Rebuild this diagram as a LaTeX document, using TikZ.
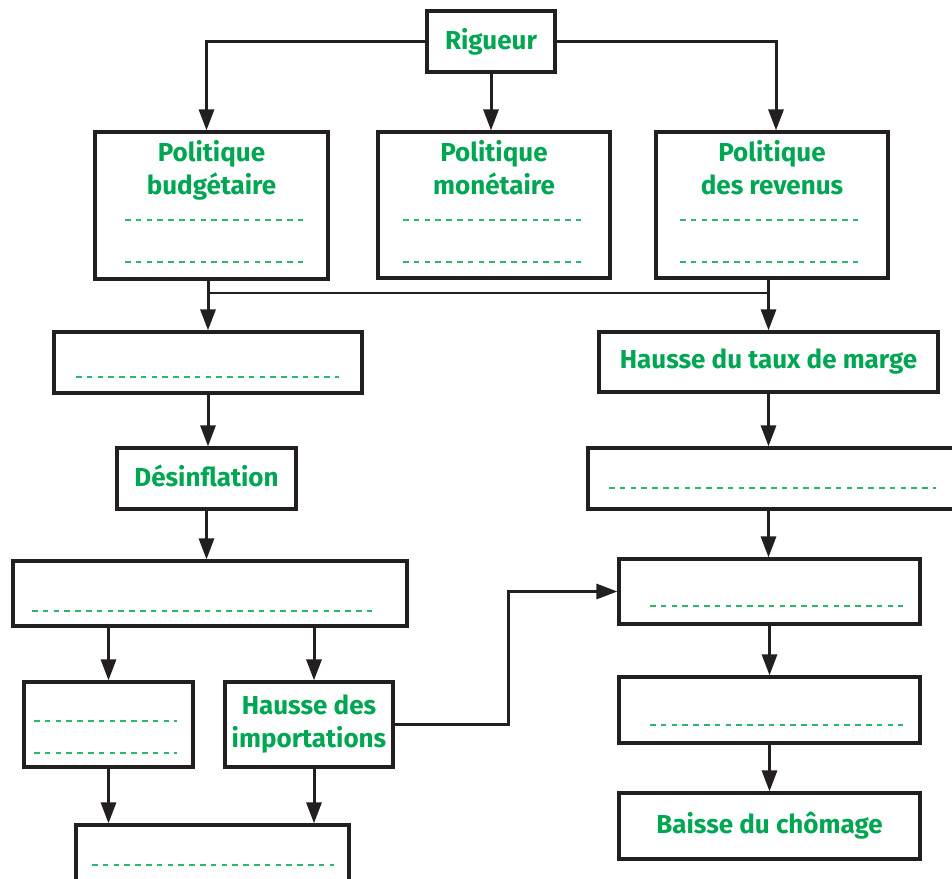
\documentclass[tikz,border=0pt]{standalone}
\usepackage{fontspec}
\setmainfont{Fira Sans}
\usetikzlibrary{arrows.meta}
\definecolor{vert}{RGB}{0,166,81}
\definecolor{vertclair}{RGB}{45,182,110}
\definecolor{trait}{RGB}{35,31,32}

\begin{document}
\begin{tikzpicture}[x=1pt, y=-1pt,
  boite/.style={draw=trait, line width=3.2pt, rectangle, inner sep=0pt, align=center, text=vert, font=\fontsize{26}{33}\selectfont\bfseries},
  txt/.style={text=vert, align=center, inner sep=0pt, font=\fontsize{26}{33}\selectfont\bfseries},
  fleche/.style={draw=trait, line width=3pt, -{Triangle[length=21pt,width=15pt]}},
  ligne/.style={draw=trait, line width=2.8pt},
  pointille/.style={draw=vertclair, line width=1.7pt, dash pattern=on 5.5pt off 5.3pt}]
\useasboundingbox (0,0) rectangle (952,878);

\node[boite, minimum width=128pt, minimum height=61pt] (rig) at (491,41.5) {Rigueur};
\node[boite, minimum width=233pt, minimum height=147pt] (budget) at (211.5,205.5) {};
\node[boite, minimum width=232pt, minimum height=146pt] (monet) at (494,205) {};
\node[boite, minimum width=232pt, minimum height=146pt] (revenu) at (772,205) {};
\node[txt, anchor=north] at ([yshift=-10pt]budget.north) {Politique\\budgétaire};
\node[txt, anchor=north] at ([yshift=-10pt]monet.north) {Politique\\monétaire};
\node[txt, anchor=north] at ([yshift=-10pt]revenu.north) {Politique\\des revenus};

\node[boite, minimum width=308pt, minimum height=61pt] (vide1) at (208,362.5) {};
\node[boite, minimum width=179pt, minimum height=61pt] (desinf) at (206.5,478.5) {Désinflation\vphantom{g}};
\node[boite, minimum width=394pt, minimum height=65pt] (vide3) at (210,593.5) {};
\node[boite, minimum width=169pt, minimum height=85pt] (vide4) at (108.5,724.5) {};
\node[boite, minimum width=168pt, minimum height=85pt] (import) at (309,724.5) {Hausse des\\importations};
\node[boite, minimum width=273pt, minimum height=75pt] (vide5) at (212.5,862.5) {};

\node[boite, minimum width=339pt, minimum height=60pt] (marge) at (768.5,362) {Hausse du taux de marge};
\node[boite, minimum width=382pt, minimum height=61pt] (vide2) at (779,478.5) {};
\node[boite, minimum width=301pt, minimum height=65pt] (vide6) at (769.5,591.5) {};
\node[boite, minimum width=301pt, minimum height=66pt] (vide7) at (769.5,710) {};
\node[boite, minimum width=301pt, minimum height=66pt] (chomage) at (769.5,826) {Baisse du chômage};

\draw[pointille] (125,220) -- (304,220);
\draw[pointille] (125,262) -- (304,262);
\draw[pointille] (403,220) -- (583,220);
\draw[pointille] (403,262) -- (583,262);
\draw[pointille] (680,220) -- (860,220);
\draw[pointille] (680,262) -- (860,262);
\draw[pointille] (76,377) -- (339,377);
\draw[pointille] (609,488) -- (936,488);
\draw[pointille] (32,611) -- (372,611);
\draw[pointille] (34,721) -- (177,721);
\draw[pointille] (34,753) -- (177,753);
\draw[pointille] (92,865) -- (334,865);
\draw[pointille] (650,606) -- (903,606);
\draw[pointille] (650,725) -- (903,725);

\draw[fleche] (rig.west) -| ([xshift=-5pt]budget.north);
\draw[fleche] (rig.south) -- (rig.south |- monet.north);
\draw[fleche] (rig.east) -| ([xshift=4pt]revenu.north);

\coordinate (bus) at (0,293);
\draw[fleche] (budget.south -| vide1.north) -- (vide1.north);
\draw[fleche] (revenu.south -| marge.north) -- (marge.north);
\draw[ligne] (vide1.north |- bus) -- (marge.north |- bus);

\draw[fleche] (vide1.south) -- (vide1.south |- desinf.north);
\draw[fleche] (desinf.south) -- (desinf.south |- vide3.north);
\draw[fleche] (vide3.south -| vide4.north) -- (vide4.north);
\draw[fleche] ([xshift=5pt]import.north |- vide3.south) -- ([xshift=5pt]import.north);
\draw[fleche] (vide4.south) -- (vide4.south |- vide5.north);
\draw[fleche] ([xshift=5pt]import.south) -- ([xshift=5pt]import.south |- vide5.north);
\draw[fleche] (import.east) -- ++(114,0) |- (vide6.west);

\draw[fleche] (marge.south) -- (marge.south |- vide2.north);
\draw[fleche] (marge.south |- vide2.south) -- (marge.south |- vide6.north);
\draw[fleche] (vide6.south) -- (vide7.north);
\draw[fleche] (vide7.south) -- (chomage.north);
\end{tikzpicture}
\end{document}
